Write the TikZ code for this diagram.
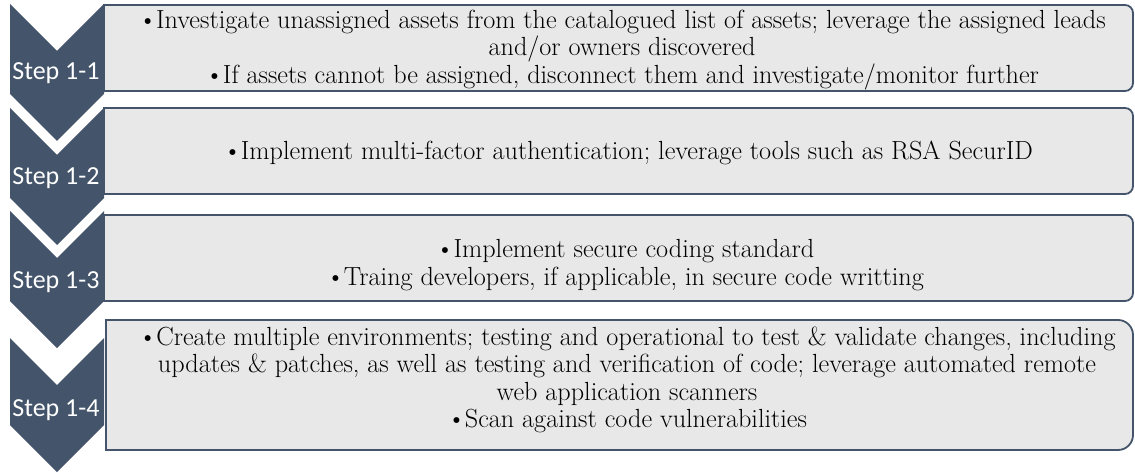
\documentclass[tikz,border=0pt]{standalone}
\usepackage{fontspec}
\newfontfamily\labelsans{Carlito}
\definecolor{slate}{HTML}{44546A}
\definecolor{panel}{HTML}{E8E8E8}

% panel with rounded right corners: x1, y1, x2, y2, radius
\newcommand\panelshape[5]{%
  \draw[panelbox] (#1,#2) -- ({#3-#5},#2) arc[start angle=-90,end angle=0,radius=#5]
    -- (#3,{#4-#5}) arc[start angle=0,end angle=90,radius=#5] -- (#1,#4) -- cycle;}
% downward chevron: top y, tip y
\newcommand\chevronshape[2]{%
  \fill[chev] (10,#1) -- (57,#1+47) -- (104,#1) -- (104,#2-47)
    -- (57,#2) -- (10,#2-47) -- cycle;}
% bullet mark
\newcommand\bul{\textbullet\kern-1pt}

\begin{document}
\begin{tikzpicture}[x=1pt,y=-1pt,
  chev/.style={fill=slate},
  panelbox/.style={fill=panel, draw=slate, line width=1.8pt},
  steplabel/.style={text=white, font=\labelsans\fontsize{26}{30}\selectfont, inner sep=0},
  bodytext/.style={align=center, font=\rmfamily\fontsize{26.2}{27.5}\selectfont, inner sep=0, text=black}]
\useasboundingbox (0,0) rectangle (1135,473);

% text panels
\panelshape{104}{5}{1133}{91}{8}
\panelshape{104}{108}{1133}{194}{8}
\panelshape{104}{215}{1133}{301}{8}
\panelshape{106}{320}{1133}{450}{15}

% step chevrons
\chevronshape{4}{141}
\chevronshape{108}{245}
\chevronshape{211}{348}
\chevronshape{338}{472}

\node[steplabel] (s1) at (56,73) {Step 1-1};
\node[steplabel] (s2) at (56,178) {Step 1-2};
\node[steplabel] (s3) at (56,282) {Step 1-3};
\node[steplabel] (s4) at (56,410) {Step 1-4};

\node[bodytext] (t1) at (622,50) {\bul Investigate unassigned assets from the catalogued list of assets; leverage the assigned leads\\
  and/or owners discovered\\
  \bul If assets cannot be assigned, disconnect them and investigate/monitor further};
\node[bodytext] (t2) at (628,153) {\bul Implement multi-factor authentication; leverage tools such as RSA SecurID};
\node[bodytext] (t3) at (625,265) {\bul Implement secure coding standard\\
  \bul Traing developers, if applicable, in secure code writting};
\node[bodytext] (t4) at (627,380) {\bul Create multiple environments; testing and operational to test \& validate changes, including\\
  updates \& patches, as well as testing and verification of code; leverage automated remote\\
  web application scanners\\
  \bul Scan against code vulnerabilities};
\end{tikzpicture}
\end{document}
